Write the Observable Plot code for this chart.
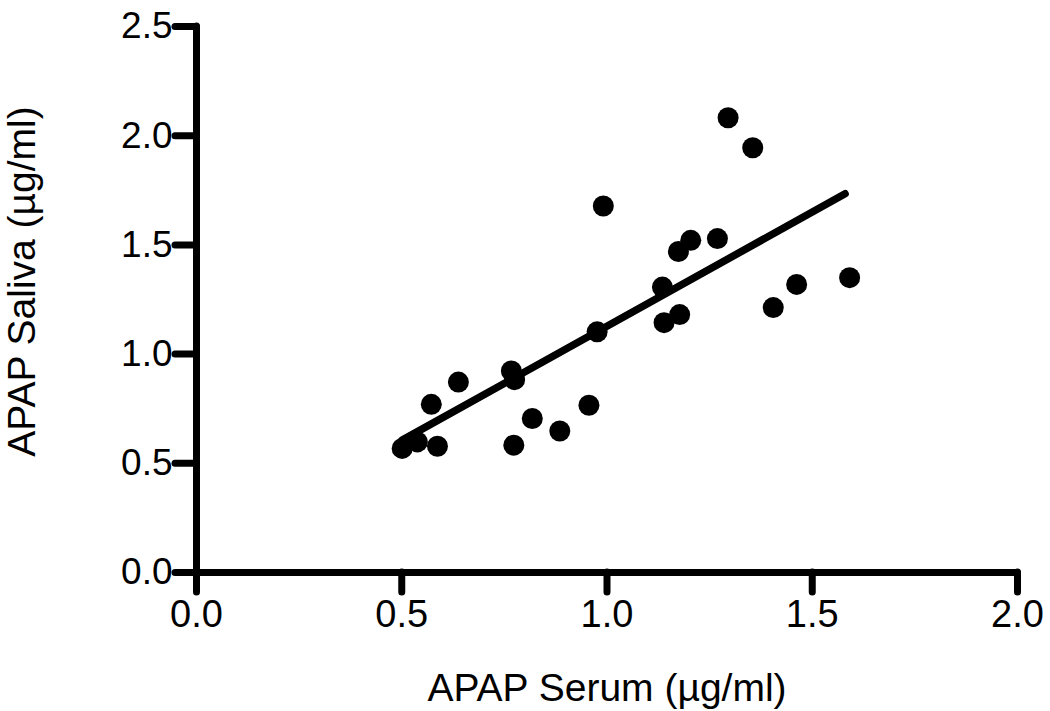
<!DOCTYPE html>
<html>
<head>
<meta charset="utf-8">
<script src="https://cdn.jsdelivr.net/npm/d3@7"></script>
<script src="https://cdn.jsdelivr.net/npm/@observablehq/plot@0.6"></script>
<style>
  html, body { margin: 0; padding: 0; background: #fff; }
  #chart svg { display: block; }
</style>
</head>
<body>
<div id="chart"></div>
<script>
// Observed points (APAP serum vs saliva, µg/ml)
const serum  = [0.501, 0.538, 0.572, 0.587, 0.638, 0.767, 0.775, 0.773, 0.818, 0.885, 0.956, 0.976,
                0.991, 1.135, 1.139, 1.174, 1.177, 1.204, 1.269, 1.295, 1.355, 1.405, 1.462, 1.591];
const saliva = [0.568, 0.598, 0.770, 0.578, 0.872, 0.923, 0.883, 0.583, 0.705, 0.648, 0.766, 1.102,
                1.678, 1.307, 1.144, 1.470, 1.181, 1.521, 1.529, 2.082, 1.945, 1.213, 1.319, 1.350];
// Regression line endpoints as drawn
const fitX = [0.501, 1.580];
const fitY = [0.606, 1.734];
// Axis ticks and titles
const xTicks = [0, 0.5, 1.0, 1.5, 2.0];
const yTicks = [0, 0.5, 1.0, 1.5, 2.0, 2.5];
const xTitle = "APAP Serum (µg/ml)";
const yTitle = "APAP Saliva (µg/ml)";

const points = serum.map((s, i) => ({x: s, y: saliva[i]}));
const fit = fitX.map((x, i) => ({x, y: fitY[i]}));

const chart = Plot.plot({
  width: 1050,
  height: 711,
  marginLeft: 196,
  marginRight: 33,
  marginTop: 26,
  marginBottom: 139,
  style: {fontFamily: "'Liberation Sans', Arial, sans-serif", background: "#fff", color: "#000"},
  x: {domain: [0, 2]},
  y: {domain: [0, 2.5]},
  marks: [
    Plot.axisX({ticks: xTicks, tickSize: 20, tickPadding: 8, strokeWidth: 7, strokeLinecap: "round",
                tickFormat: d3.format(".1f"), fontSize: 38, label: null}),
    Plot.axisY({ticks: yTicks, tickSize: 21, tickPadding: 3, strokeWidth: 7, strokeLinecap: "round",
                tickFormat: d3.format(".1f"), fontSize: 37, label: null}),
    Plot.ruleY([0], {strokeWidth: 7, strokeLinecap: "round"}),
    Plot.ruleX([0], {strokeWidth: 7, strokeLinecap: "round"}),
    Plot.line(fit, {x: "x", y: "y", strokeWidth: 7.5}),
    Plot.dot(points, {x: "x", y: "y", r: 10.5, fill: "black", stroke: "none"}),
    Plot.text([xTitle], {frameAnchor: "bottom", lineAnchor: "bottom", dy: 128, fontSize: 39, fill: "black"}),
    Plot.text([yTitle], {frameAnchor: "left", textAnchor: "middle", lineAnchor: "top", dx: -189, dy: -18,
                         rotate: -90, fontSize: 39, fill: "black"})
  ]
});
document.getElementById("chart").appendChild(chart);
</script>
</body>
</html>
